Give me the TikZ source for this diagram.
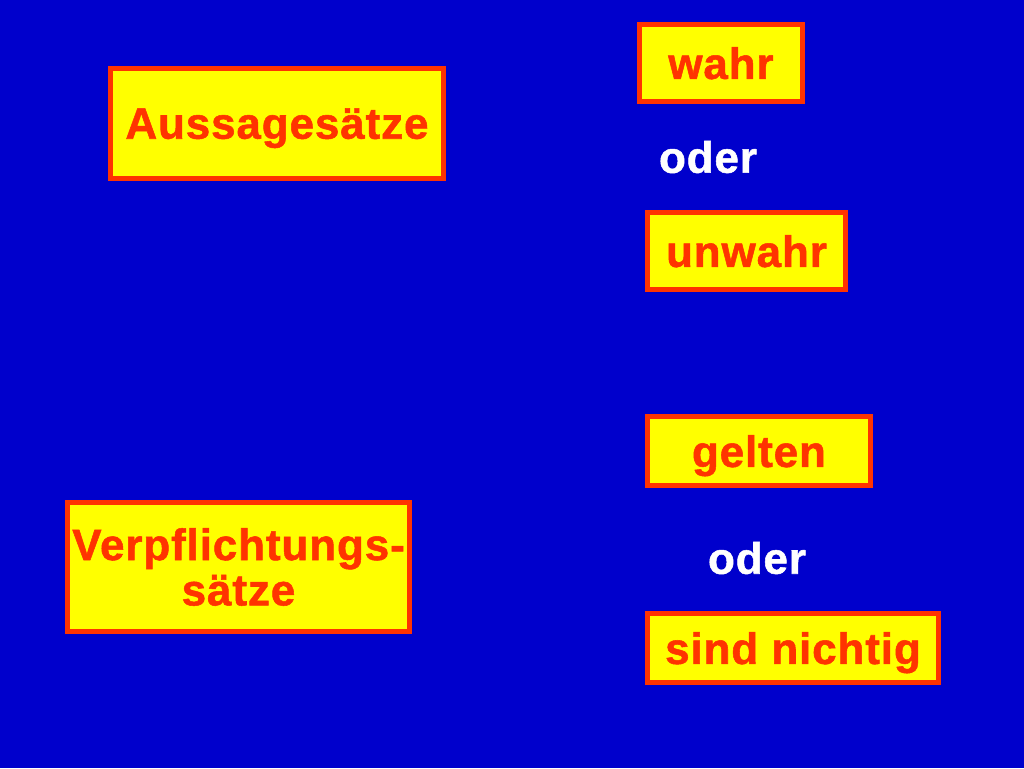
\documentclass[tikz,border=0pt]{standalone}
\usepackage{fontspec}
\setmainfont{Liberation Sans}[BoldFeatures={FakeBold=1.2,LetterSpace=2}]
\definecolor{bgblue}{RGB}{0,0,204}
\definecolor{boxred}{RGB}{255,51,0}
\definecolor{boxyellow}{RGB}{255,255,0}
\tikzset{
    satzbox/.style={draw=boxred,fill=boxyellow,line width=3.75pt,text=boxred,
        font=\fontsize{33}{34}\selectfont\bfseries,align=center,inner sep=0pt},
    einzeilig/.style={text depth=0pt},
    oderlabel/.style={text=white,font=\fontsize{33}{34}\selectfont\bfseries,inner sep=0pt}
}
\begin{document}
\begin{tikzpicture}[x=0.75pt,y=-0.75pt]
        \fill[bgblue] (0,0) rectangle (1024,768);
        \useasboundingbox (0,0) rectangle (1024,768);

        \path
            (277,123.5) node(aussage)[satzbox,einzeilig,minimum width=249.75pt,minimum height=82.5pt] {Aussages\"atze}
            (238.5,567) node(verpflicht)[satzbox,minimum width=256.5pt,minimum height=96.75pt] {\raisebox{-1.5pt}{Verpflichtungs-}\\\raisebox{-1.5pt}{s\"atze}};

        \path
            (721,63) node(wahr)[satzbox,einzeilig,minimum width=122.25pt,minimum height=57.75pt] {wahr}
            (708,157) node(oder1)[oderlabel] {oder}
            (746.5,251) node(unwahr)[satzbox,einzeilig,minimum width=148.5pt,minimum height=57.75pt] {unwahr};

        \path
            (759,451) node(gelten)[satzbox,einzeilig,minimum width=167.25pt,minimum height=51.75pt] {gelten}
            (757,558) node(oder2)[oderlabel] {oder}
            (793,648) node(nichtig)[satzbox,einzeilig,minimum width=218.25pt,minimum height=51.75pt] {sind nichtig};
    \end{tikzpicture}
\end{document}
